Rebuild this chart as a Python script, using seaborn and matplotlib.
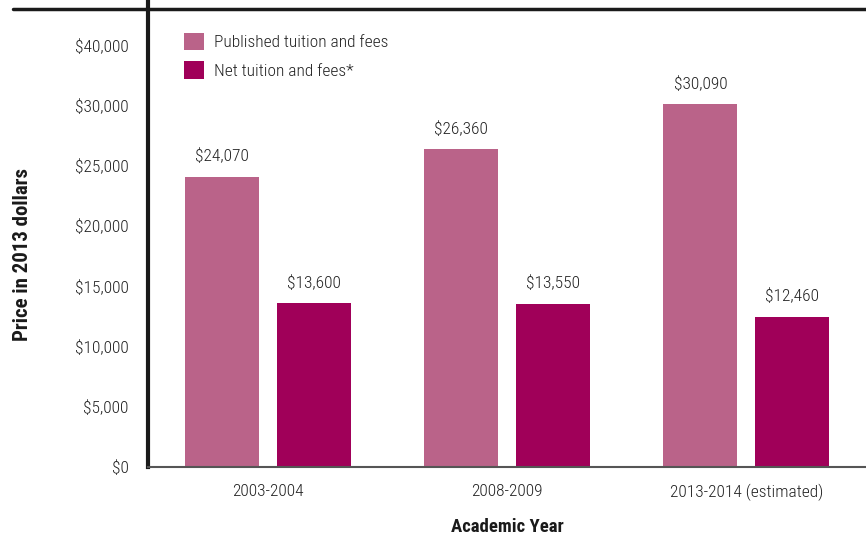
import matplotlib
matplotlib.use('Agg')
import matplotlib.pyplot as plt
from matplotlib.lines import Line2D
import pandas as pd
import seaborn as sns

years = ['2003-2004', '2008-2009', '2013-2014 (estimated)']
published = [24070, 26360, 30090]
net = [13600, 13550, 12460]
series_names = ['Published tuition and fees', 'Net tuition and fees*']
value_labels_pub = ['$24,070', '$26,360', '$30,090']
value_labels_net = ['$13,600', '$13,550', '$12,460']
ytick_values = [0, 5000, 10000, 15000, 20000, 25000, 30000, 35000]
ytick_labels = ['$0', '$5,000', '$10,000', '$15,000', '$20,000', '$25,000', '$30,000', '$40,000']

sns.set_style('white')
plt.rcParams['font.family'] = ['Roboto Condensed', 'Liberation Sans Narrow', 'Liberation Sans', 'DejaVu Sans']
plt.rcParams['font.weight'] = 'light'

# long format for seaborn
data = []
for i, yr in enumerate(years):
    data.append({'year': yr, 'price': published[i], 'series': series_names[0]})
    data.append({'year': yr, 'price': net[i], 'series': series_names[1]})
df = pd.DataFrame(data)

fig = plt.figure(figsize=(8.66, 5.36), dpi=100)
ax = fig.add_axes([148 / 866, 69 / 536, 1 - 148 / 866, 467 / 536])

sns.barplot(data=df, x='year', y='price', hue='series', ax=ax,
            palette=['#BA6389', '#A00059'], width=0.768, gap=0.196,
            saturation=1, errorbar=None, legend=True, linewidth=0)

ax.set_xlim(-0.5, 2.5)
ax.set_ylim(0, 467 / 12.05 * 1000)
ax.set_yticks(ytick_values)
ax.set_yticklabels(ytick_labels)
ax.tick_params(axis='both', length=0, labelsize=12.5, colors='#222222')
ax.tick_params(axis='y', pad=14)
ax.tick_params(axis='x', pad=12)

# value labels over bars
for container, labels in zip(ax.containers, [value_labels_pub, value_labels_net]):
    ax.bar_label(container, labels=labels, padding=9, fontsize=12.5, color='#222222')

ax.set_xlabel('Academic Year', fontsize=13.5, fontweight='bold', labelpad=12, color='#1a1a1a')
ax.set_ylabel('Price in 2013 dollars', fontsize=15, fontweight='bold', color='#1a1a1a')
ax.yaxis.set_label_coords(-0.162, 0.455)

for s in ['top', 'right']:
    ax.spines[s].set_visible(False)
ax.spines['left'].set_color('#1a1a1a')
ax.spines['left'].set_linewidth(3)
ax.spines['bottom'].set_color('#555555')
ax.spines['bottom'].set_linewidth(1.5)

# top rule
fig.add_artist(Line2D([13 / 866, 1], [1 - 9 / 536, 1 - 9 / 536], color='#1a1a1a', lw=2.5))

handles, lbls = ax.get_legend_handles_labels()
ax.legend(handles, lbls, loc='upper left', bbox_to_anchor=(0.05, 0.93), frameon=False,
          fontsize=12.5, handlelength=1.15, handleheight=1.15, handletextpad=0.6,
          labelspacing=0.65, borderaxespad=0, borderpad=0, labelcolor='#222222')

fig.savefig('out.png', dpi=100)
